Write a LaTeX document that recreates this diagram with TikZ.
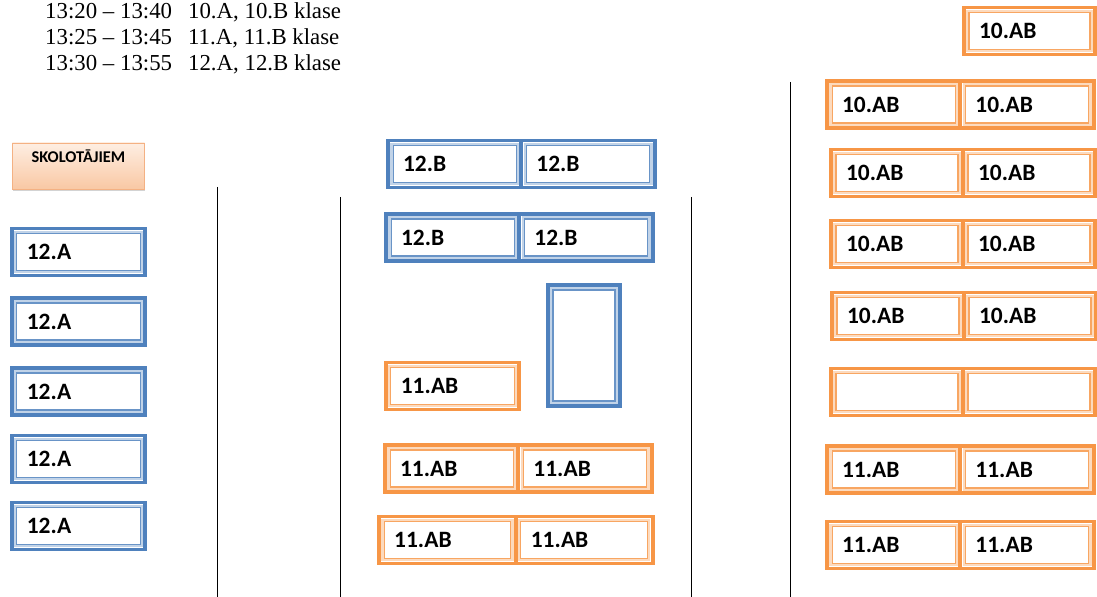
\documentclass[tikz,border=0pt]{standalone}
\usepackage{fontspec}
\setmainfont{Liberation Serif}
\newfontfamily\seatfont{Carlito}
\usepackage{tikz}
\usetikzlibrary{positioning,shadows}
\definecolor{seatblue}{HTML}{4F81BD}
\definecolor{seatorange}{HTML}{F79646}
\definecolor{peachtop}{HTML}{FEEEE2}
\definecolor{peachbottom}{HTML}{F9C8A4}
\definecolor{peachline}{HTML}{F4B183}

\begin{document}
\begin{tikzpicture}
[
x=0.03cm, y=-0.03cm,
seat/.style={draw=#1, line width=3.4pt, fill=white, outer sep=0pt, inner xsep=0.45cm, inner ysep=0pt,
  minimum height=1.41cm, text width=3.1cm, align=left, font=\seatfont\bfseries\fontsize{20}{24}\selectfont,
  path picture={
    \draw[#1!35, line width=2pt] ([shift={(0.1cm,0.1cm)}]path picture bounding box.south west) rectangle ([shift={(-0.1cm,-0.1cm)}]path picture bounding box.north east);
    \draw[#1!85, line width=0.9pt] ([shift={(0.15cm,0.15cm)}]path picture bounding box.south west) rectangle ([shift={(-0.15cm,-0.15cm)}]path picture bounding box.north east);}},
blueseat/.style={seat=seatblue},
orangeseat/.style={seat=seatorange},
teacherbox/.style={draw=peachline, line width=0.6pt, top color=peachtop, bottom color=peachbottom,
  drop shadow={opacity=0.35, shadow xshift=0.8pt, shadow yshift=-2pt},
  text width=3.96cm, align=center, inner xsep=0pt, inner ysep=0pt, text height=0.6cm, text depth=0.78cm,
  font=\seatfont\bfseries\fontsize{14}{16}\selectfont},
timetext/.style={anchor=base west, inner sep=0pt, font=\fontsize{19.5}{23}\selectfont},
aisle/.style={draw=black, line width=0.8pt},
]
\useasboundingbox (0,0) rectangle (1097,597);

%Nodes
\node[timetext] (time1) at (45,19) {13:20 -- 13:40\hspace{0.7em}10.A, 10.B klase};
\node[timetext] (time2) at (45,45) {13:25 -- 13:45\hspace{0.7em}11.A, 11.B klase};
\node[timetext] (time3) at (45,71) {13:30 -- 13:55\hspace{0.7em}12.A, 12.B klase};

\node[teacherbox] (teachers) at (78.5,166) {SKOLOTĀJIEM};

\node[blueseat] (left1) at (78.5,252) {12.A};
\node[blueseat] (left2) at (78.5,321.5) {12.A};
\node[blueseat] (left3) at (78.5,391.5) {12.A};
\node[blueseat] (left4) at (78.5,459) {12.A};
\node[blueseat] (left5) at (78.5,526) {12.A};

\node[blueseat] (mid1a) at (454.7,164) {12.B};
\node[blueseat, right=0pt of mid1a] (mid1b) {12.B};
\node[blueseat] (mid2a) at (452.7,237.5) {12.B};
\node[blueseat, right=0pt of mid2a] (mid2b) {12.B};
\node[blueseat, text width=1.26cm, minimum height=3.63cm] (midtall) at (584,345.5) {};
\node[orangeseat] (mid3) at (452.5,386) {11.AB};
\node[orangeseat] (mid4a) at (451.7,468.5) {11.AB};
\node[orangeseat, right=0pt of mid4a] (mid4b) {11.AB};
\node[orangeseat, text width=3.2cm] (mid5a) at (447.5,540) {11.AB};
\node[orangeseat, text width=3.2cm, right=0pt of mid5a] (mid5b) {11.AB};

\node[orangeseat, text width=3.03cm] (right0) at (1029.5,31) {10.AB};
\node[orangeseat] (right1a) at (893.7,104.5) {10.AB};
\node[orangeseat, right=0pt of right1a] (right1b) {10.AB};
\node[orangeseat, text width=3.06cm] (right2a) at (897,173) {10.AB};
\node[orangeseat, text width=3.06cm, right=0pt of right2a] (right2b) {10.AB};
\node[orangeseat, text width=3.06cm] (right3a) at (897,244) {10.AB};
\node[orangeseat, text width=3.06cm, right=0pt of right3a] (right3b) {10.AB};
\node[orangeseat, text width=3.06cm] (right4a) at (898,316) {10.AB};
\node[orangeseat, text width=3.06cm, right=0pt of right4a] (right4b) {10.AB};
\node[orangeseat, text width=3.06cm] (right5a) at (897,392) {};
\node[orangeseat, text width=3.06cm, right=0pt of right5a] (right5b) {};
\node[orangeseat] (right6a) at (893.7,469.5) {11.AB};
\node[orangeseat, right=0pt of right6a] (right6b) {11.AB};
\node[orangeseat] (right7a) at (893.7,545) {11.AB};
\node[orangeseat, right=0pt of right7a] (right7b) {11.AB};

%Lines
\draw[aisle] (217,187) -- (217,597);
\draw[aisle] (340,197) -- (340,597);
\draw[aisle] (691,197) -- (691,597);
\draw[aisle] (790,82) -- (790,597);
\end{tikzpicture}
\end{document}
